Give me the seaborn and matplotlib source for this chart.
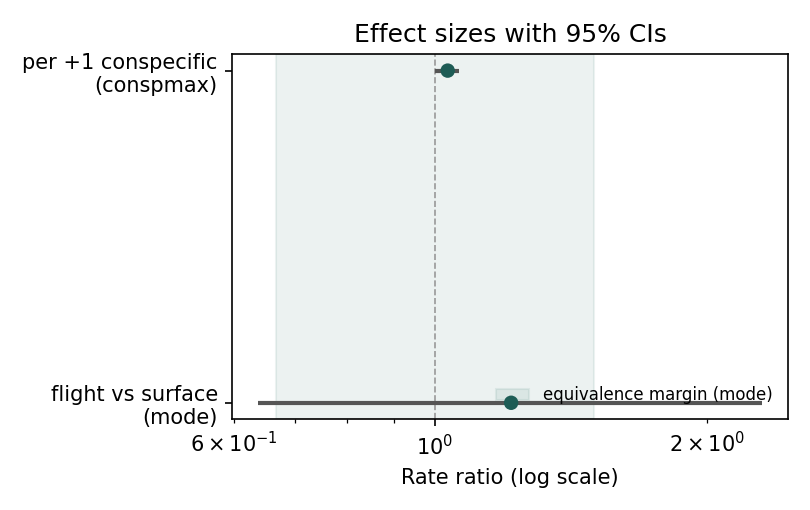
import seaborn as sns
import pandas as pd
import matplotlib.pyplot as plt

# effect estimates (rate ratios) with 95% CIs
terms = ["per +1 conspecific\n(conspmax)", "flight vs surface\n(mode)"]
estimate = [1.033, 1.214]
ci_low = [1.000, 0.637]
ci_high = [1.062, 2.300]
margin_low = 0.667
margin_high = 1.5

effects = pd.DataFrame({"term": terms, "estimate": estimate,
                        "lo": ci_low, "hi": ci_high})
effects["pos"] = range(len(effects))

fig, ax = plt.subplots(figsize=(5.4, 3.4), dpi=150)

# equivalence band and null line
ax.axvspan(margin_low, margin_high, color="#2f6f66", alpha=0.09,
           label="equivalence margin (mode)")
ax.axvline(1.0, color="#999999", linestyle="--", linewidth=0.8)

# confidence intervals
ax.hlines(effects["pos"], effects["lo"], effects["hi"],
          color="#555555", linewidth=2.0, zorder=2)

# point estimates
sns.scatterplot(x="estimate", y="pos", data=effects, ax=ax,
                color="#1d5c55", s=48, edgecolor="none", zorder=3)

ax.set_xscale("log")
ax.set_yticks(effects["pos"])
ax.set_yticklabels(effects["term"])
ax.invert_yaxis()
ax.set_ylabel("")
ax.set_xlabel("Rate ratio (log scale)")
ax.set_title("Effect sizes with 95% CIs")
ax.legend(loc="lower right", frameon=False, fontsize=8)

plt.tight_layout()
plt.savefig("out.png")
